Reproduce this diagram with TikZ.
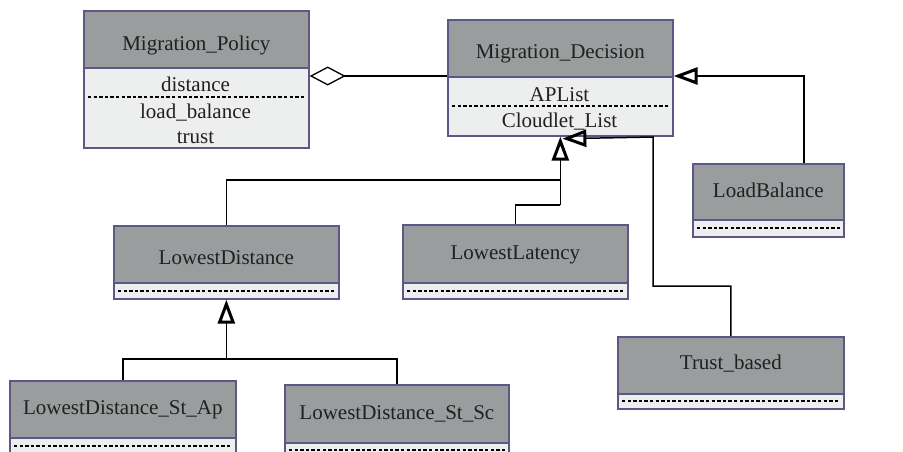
\documentclass[tikz,border=0pt]{standalone}
\usepackage{fontspec}
\setmainfont{Liberation Serif}
\usetikzlibrary{arrows.meta,calc}
\definecolor{hdr}{RGB}{154,157,158}
\definecolor{bdy}{RGB}{237,238,238}
\definecolor{brd}{RGB}{95,86,136}
\definecolor{txt}{RGB}{35,31,32}
\newcommand{\clsfont}{\fontsize{21}{24}\selectfont}
\tikzset{
  hdrbox/.style={draw=brd, fill=hdr, line width=1.7pt, anchor=north west, inner sep=0pt,
    text=txt, font=\clsfont, text depth=0pt, text height=12pt},
  bdybox/.style={draw=brd, fill=bdy, line width=1.7pt, anchor=north west, inner sep=0pt},
  dots/.style={line width=1.8pt, dash pattern=on 3.4pt off 2.2pt},
  lbl/.style={text=txt, font=\clsfont, inner sep=0pt, anchor=base},
  conn/.style={line width=1.5pt, draw=black},
  gen/.style={conn, -{Triangle[open, length=24pt, width=17pt, line width=3pt]}},
  aggr/.style={conn, {Diamond[open, length=36pt, width=19pt, line width=1.3pt]}-},
}
\begin{document}
\begin{tikzpicture}[x=1pt,y=-1pt]
\fill[white] (0,0) rectangle (903,451);
\clip (0,0) rectangle (903,451);

% Migration_Policy
\node[hdrbox, text height=23pt, minimum width=225pt, minimum height=57pt] (MPh) at (83,10) {Migration\_Policy};
\node[bdybox, minimum width=225pt, minimum height=80pt] (MPb) at (83,67) {};
\node[lbl] (mp1) at (195.5,91) {distance};
\node[lbl] (mp2) at (195.5,118) {load\_balance};
\node[lbl] (mp3) at (195.5,143) {trust};
\draw[dots] ($(MPb.north west)+(5,30)$) -- ($(MPb.north east)+(-5,30)$);

% Migration_Decision
\node[hdrbox, text height=21pt, minimum width=225pt, minimum height=57pt] (MDh) at (447,19) {Migration\_Decision};
\node[bdybox, minimum width=225pt, minimum height=59pt] (MDb) at (447,76) {};
\node[lbl] (md1) at (559.5,101) {APList};
\node[lbl] (md2) at (559.5,127) {Cloudlet\_List};
\draw[dots] ($(MDb.north west)+(5,30)$) -- ($(MDb.north east)+(-5,30)$);

% LoadBalance
\node[hdrbox, text height=12pt, minimum width=151pt, minimum height=56pt] (LBh) at (692,163) {LoadBalance};
\node[bdybox, minimum width=151pt, minimum height=17pt] (LBb) at (692,219) {};
\draw[dots] ($(LBb.west)+(5,0)$) -- ($(LBb.east)+(-5,0)$);

% LowestDistance
\node[hdrbox, text height=21pt, minimum width=225pt, minimum height=57pt] (LDh) at (113,225) {LowestDistance};
\node[bdybox, minimum width=225pt, minimum height=16pt] (LDb) at (113,282) {};
\draw[dots] ($(LDb.west)+(5,0)$) -- ($(LDb.east)+(-5,0)$);

% LowestLatency
\node[hdrbox, text height=12pt, minimum width=225pt, minimum height=58pt] (LLh) at (402,224) {LowestLatency};
\node[bdybox, minimum width=225pt, minimum height=16pt] (LLb) at (402,282) {};
\draw[dots] ($(LLb.west)+(5,0)$) -- ($(LLb.east)+(-5,0)$);

% Trust_based
\node[hdrbox, text height=9pt, minimum width=226pt, minimum height=57pt] (TBh) at (617,336) {Trust\_based};
\node[bdybox, minimum width=226pt, minimum height=15pt] (TBb) at (617,393) {};
\draw[dots] ($(TBb.west)+(5,0)$) -- ($(TBb.east)+(-5,0)$);

% LowestDistance_St_Ap
\node[hdrbox, text height=11pt, minimum width=226pt, minimum height=57pt] (SAh) at (9,380) {LowestDistance\_St\_Ap};
\node[bdybox, minimum width=226pt, minimum height=16pt] (SAb) at (9,437) {};
\draw[dots] ($(SAb.west)+(5,0)$) -- ($(SAb.east)+(-5,0)$);

% LowestDistance_St_Sc
\node[hdrbox, text height=12pt, minimum width=224pt, minimum height=58pt] (SSh) at (284,384) {LowestDistance\_St\_Sc};
\node[bdybox, minimum width=224pt, minimum height=14pt] (SSb) at (284,442) {};
\draw[dots] ($(SSb.west)+(5,0)$) -- ($(SSb.east)+(-5,0)$);

% aggregation
\draw[aggr] (MDb.north west -| MPb.east) -- (MDb.north west);

% LoadBalance -> Migration_Decision
\coordinate (lbtop) at ($(LBh.north west)+(112,0)$);
\draw[gen] (lbtop) |- (MDb.north east);

% LowestDistance / LowestLatency -> Migration_Decision
\coordinate (j1) at (MDb.south |- 0,180);
\coordinate (j2) at (MDb.south |- 0,205);
\draw[conn] (LDh.north) |- (j1);
\draw[conn] (LLh.north) |- (j2);
\draw[gen] (j2) -- (MDb.south);

% Trust_based -> Migration_Decision
\coordinate (t1) at (653,286);
\coordinate (t2) at (653,137);
\coordinate (t3) at ($(MDb.south)+(2,2)$);
\draw[gen] (TBh.north) |- (t1) -- (t2) -- (t3);

% St_Ap / St_Sc -> LowestDistance
\coordinate (j3) at (LDb.south |- 0,359);
\draw[conn] (SAh.north) |- (j3);
\draw[conn] (SSh.north) |- (j3);
\draw[gen] (j3) -- (LDb.south);
\end{tikzpicture}
\end{document}
